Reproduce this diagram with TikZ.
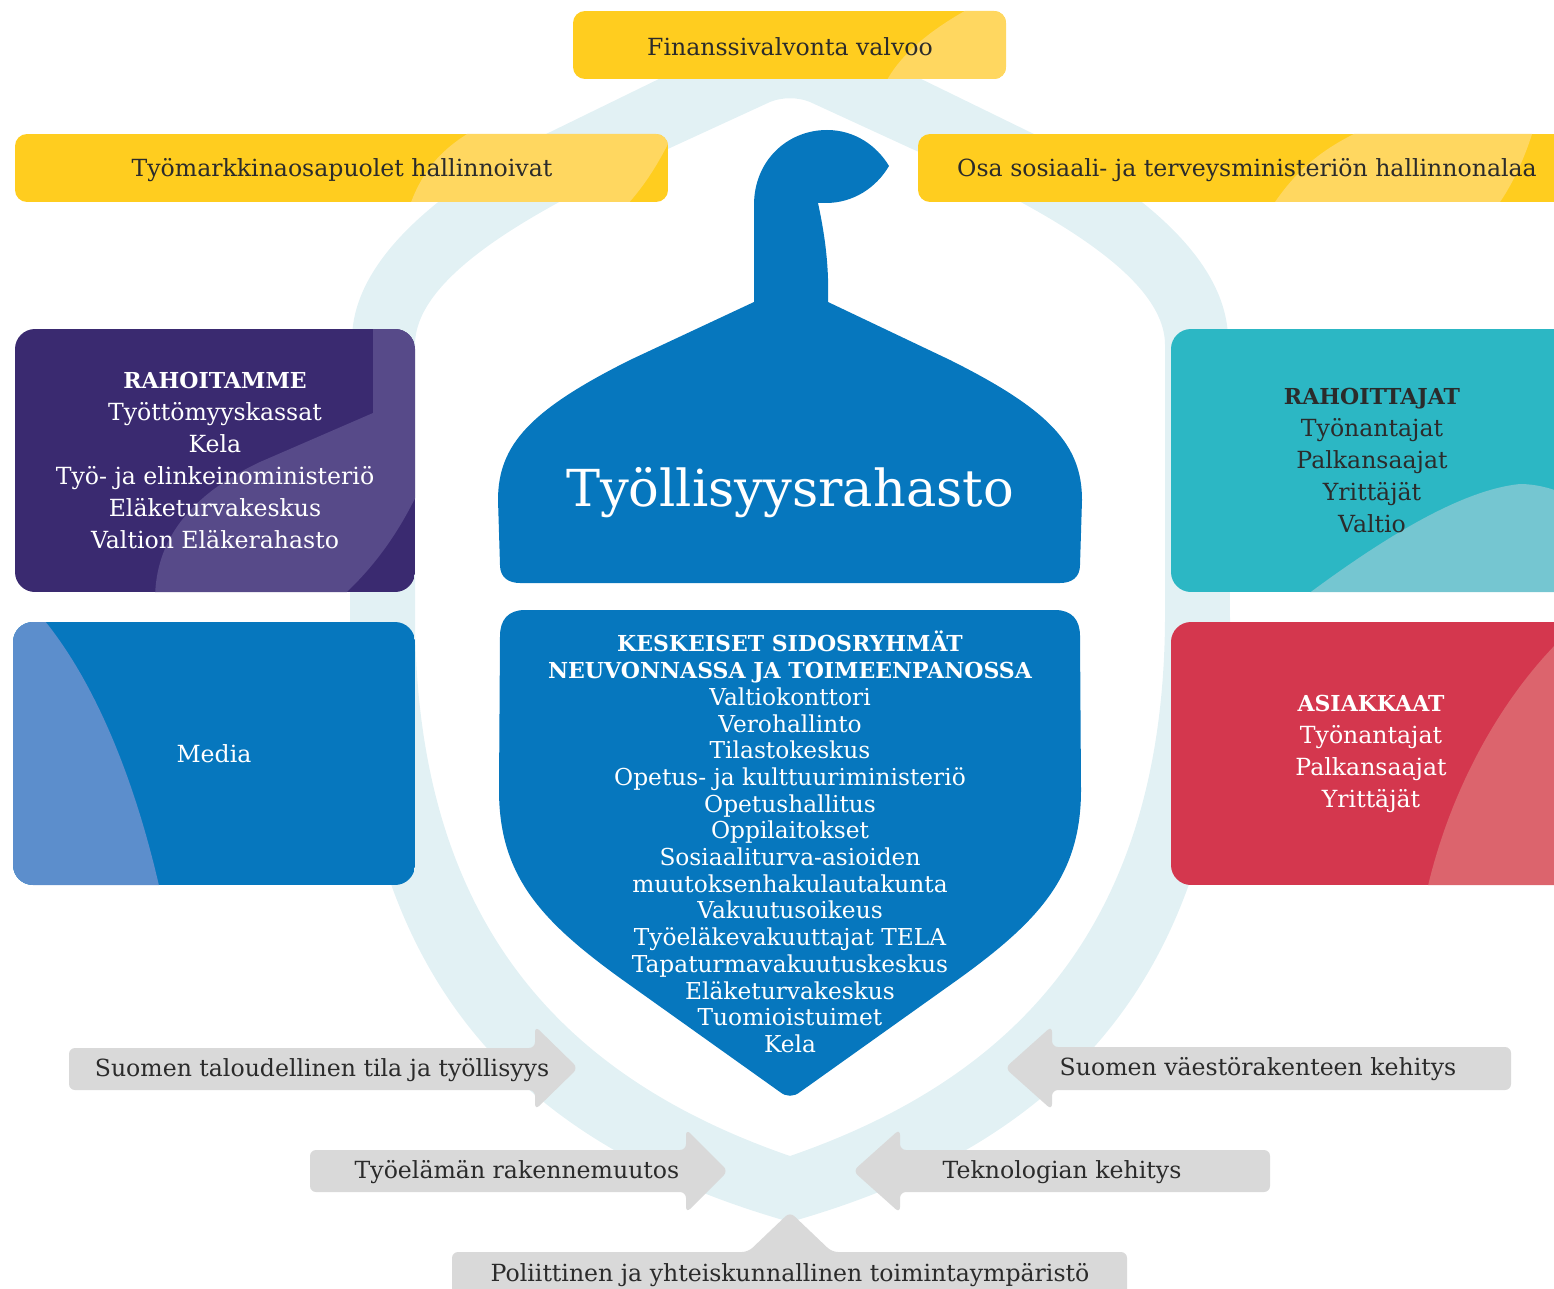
\documentclass[tikz,border=0pt]{standalone}
\usepackage{fontspec}
\setmainfont{DejaVu Serif}

\definecolor{fundblue}{HTML}{0677BE}
\definecolor{medialight}{HTML}{5C8ECC}
\definecolor{ringblue}{HTML}{E2F1F4}
\definecolor{banneryellow}{HTML}{FFCD1F}
\definecolor{bannerlight}{HTML}{FFD760}
\definecolor{purplebox}{HTML}{3A2A70}
\definecolor{purplelight}{HTML}{574A89}
\definecolor{tealbox}{HTML}{2CB7C4}
\definecolor{teallight}{HTML}{75C6D1}
\definecolor{redbox}{HTML}{D4374E}
\definecolor{redlight}{HTML}{DC646D}
\definecolor{factorgray}{HTML}{D9D9D9}
\definecolor{textdark}{HTML}{2B2B2B}

\begin{document}
\begin{tikzpicture}[x=1pt, y=-1pt,
    paneltext/.style={align=center, text=white, inner sep=0pt, font=\fontsize{23.6}{32}\selectfont},
    label/.style={text=textdark, inner sep=0pt, font=\fontsize{23.6}{28}\selectfont},
    factor/.style={fill=factorgray, rounded corners=6pt}
]
\useasboundingbox (0,0) rectangle (1554,1289);

% Ring behind everything
\fill[ringblue, even odd rule]
  (790,15) -- (540,137) .. controls (430,195) and (352,265) .. (352,340)
  -- (350,620) .. controls (352,960) and (500,1140) .. (790,1222)
  .. controls (1080,1140) and (1228,960) .. (1230,620)
  -- (1228,340) .. controls (1228,265) and (1150,195) .. (1040,137) -- cycle
  (770,102) .. controls (782,97) and (798,97) .. (810,102)
  -- (910,148) .. controls (1060,215) and (1165,280) .. (1165,345)
  -- (1165,620) .. controls (1163,930) and (1010,1080) .. (790,1156)
  .. controls (570,1080) and (417,930) .. (415,620)
  -- (415,345) .. controls (415,280) and (520,215) .. (670,148) -- cycle;

% Yellow banners
\begin{scope}
  \clip[rounded corners=12pt] (573,11) rectangle (1006,79);
  \fill[banneryellow] (573,11) rectangle (1006,79);
  \fill[bannerlight] (886,82) .. controls (900,55) and (930,30) .. (970,8) -- (1010,8) -- (1010,82) -- cycle;
\end{scope}
\begin{scope}
  \clip[rounded corners=12pt] (15,134) rectangle (668,202);
  \fill[banneryellow] (15,134) rectangle (668,202);
  \fill[bannerlight] (410,205) .. controls (422,172) and (440,150) .. (472,131) -- (672,131) -- (670,140)
    .. controls (655,170) and (642,188) .. (627,205) -- cycle;
\end{scope}
\begin{scope}
  \clip[rounded corners=12pt] (918,134) rectangle (1580,202);
  \fill[banneryellow] (918,134) rectangle (1580,202);
  \fill[bannerlight] (1273,205) .. controls (1295,172) and (1320,150) .. (1360,131) -- (1533,131)
    .. controls (1524,160) and (1512,185) .. (1498,205) -- cycle;
\end{scope}
\node[label] (supervision) at (790,47) {Finanssivalvonta valvoo};
\node[label] (labourmarket) at (342,170) {Työmarkkinaosapuolet hallinnoivat};
\node[label] (ministry) at (1247,170) {Osa sosiaali- ja terveysministeriön hallinnonalaa};

% Acorn cap
\fill[fundblue] (754,302) -- (754,205) .. controls (754,160) and (788,130) .. (827,130)
  .. controls (855,130) and (877,146) .. (889,166) .. controls (876,188) and (853,203) .. (826,203)
  -- (818,203) .. controls (826,240) and (829,270) .. (828,302)
  -- (950,360) .. controls (1050,410) and (1082,445) .. (1082,500)
  -- (1080,565) .. controls (1080,577) and (1072,583) .. (1060,583)
  -- (520,583) .. controls (508,583) and (500,577) .. (500,565)
  -- (498,500) .. controls (498,445) and (530,410) .. (630,360) -- cycle;
\node[text=white, inner sep=0pt, font=\fontsize{51}{60}\selectfont] (fund) at (790,493) {Työllisyysrahasto};

% Acorn body
\fill[fundblue] (525,610) -- (1055,610) .. controls (1072,610) and (1080,620) .. (1080,636)
  -- (1081,790) .. controls (1081,875) and (1040,920) .. (960,978)
  -- (800,1092) .. controls (794,1097) and (786,1097) .. (780,1092)
  -- (620,978) .. controls (540,920) and (499,875) .. (499,790)
  -- (500,636) .. controls (500,620) and (508,610) .. (525,610) -- cycle;
\node[paneltext, font=\fontsize{23.3}{26.7}\selectfont] (stakeholders) at (790,842)
  {{\fontsize{22}{26.7}\selectfont\bfseries KESKEISET SIDOSRYHMÄT}\\
   {\fontsize{22}{26.7}\selectfont\bfseries NEUVONNASSA JA TOIMEENPANOSSA}\\
   Valtiokonttori\\Verohallinto\\Tilastokeskus\\Opetus- ja kulttuuriministeriö\\
   Opetushallitus\\Oppilaitokset\\Sosiaaliturva-asioiden\\muutoksenhakulautakunta\\
   Vakuutusoikeus\\Työeläkevakuuttajat TELA\\Tapaturmavakuutuskeskus\\
   Eläketurvakeskus\\Tuomioistuimet\\Kela};

% Side panels
\begin{scope}
  \clip[rounded corners=20pt] (15,329) rectangle (415,592);
  \fill[purplebox] (15,329) rectangle (415,592);
  \fill[purplelight] (373,320) -- (373,413) -- (260,462) .. controls (190,495) and (155,540) .. (155,600)
    -- (338,600) .. controls (372,570) and (398,535) .. (420,488) -- (420,320) -- cycle;
\end{scope}
\begin{scope}
  \clip[rounded corners=20pt] (13,622) rectangle (415,885);
  \fill[fundblue] (13,622) rectangle (415,885);
  \fill[medialight] (5,615) -- (40,615) .. controls (95,680) and (135,780) .. (160,890) -- (5,890) -- cycle;
\end{scope}
\begin{scope}
  \clip[rounded corners=20pt] (1171,329) rectangle (1580,592);
  \fill[tealbox] (1171,329) rectangle (1580,592);
  \fill[teallight] (1300,600) .. controls (1380,540) and (1460,490) .. (1520,484)
    .. controls (1535,484) and (1550,488) .. (1560,492) -- (1560,600) -- cycle;
\end{scope}
\begin{scope}
  \clip[rounded corners=20pt] (1171,622) rectangle (1580,885);
  \fill[redbox] (1171,622) rectangle (1580,885);
  \fill[redlight] (1427,890) .. controls (1450,790) and (1500,700) .. (1560,640) -- (1560,890) -- cycle;
\end{scope}
\node[paneltext] (funded) at (215,460)
  {{\fontsize{22}{32}\selectfont\bfseries RAHOITAMME}\\Työttömyyskassat\\Kela\\
   Työ- ja elinkeinoministeriö\\Eläketurvakeskus\\Valtion Eläkerahasto};
\node[paneltext] (media) at (214,754) {Media};
\node[paneltext, text=textdark] (funders) at (1372,460)
  {{\fontsize{22}{32}\selectfont\bfseries RAHOITTAJAT}\\Työnantajat\\Palkansaajat\\Yrittäjät\\Valtio};
\node[paneltext] (customers) at (1371,754)
  {{\fontsize{22}{32}\selectfont\bfseries ASIAKKAAT}\\Työnantajat\\Palkansaajat\\Yrittäjät};

% Operating environment
\fill[factor] (69,1048) -- (535,1048) -- (535,1026) -- (578,1068) -- (535,1110) -- (535,1090) -- (69,1090) -- cycle;
\fill[factor] (1511,1047) -- (1052,1047) -- (1052,1026) -- (1005,1068) -- (1052,1110) -- (1052,1090) -- (1511,1090) -- cycle;
\fill[factor] (310,1150) -- (686,1150) -- (686,1129) -- (728,1171) -- (686,1213) -- (686,1192) -- (310,1192) -- cycle;
\fill[factor] (1270,1150) -- (900,1150) -- (900,1129) -- (853,1171) -- (900,1213) -- (900,1192) -- (1270,1192) -- cycle;
\fill[factor] (452,1300) -- (452,1252) -- (748,1252) -- (790,1212) -- (832,1252) -- (1127,1252) -- (1127,1300) -- cycle;
\node[label] (economy) at (322,1070) {Suomen taloudellinen tila ja työllisyys};
\node[label] (population) at (1258,1069) {Suomen väestörakenteen kehitys};
\node[label] (worklife) at (517,1172) {Työelämän rakennemuutos};
\node[label] (technology) at (1062,1172) {Teknologian kehitys};
\node[label] (politics) at (790,1275) {Poliittinen ja yhteiskunnallinen toimintaympäristö};

\end{tikzpicture}
\end{document}
